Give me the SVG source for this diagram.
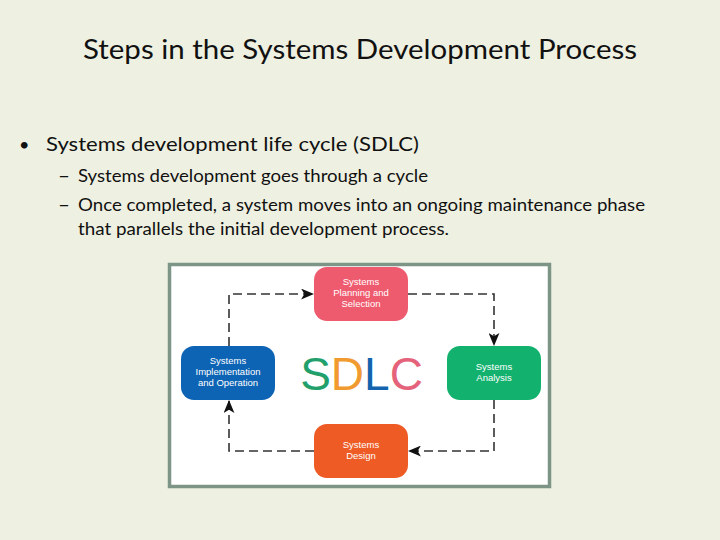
<svg xmlns="http://www.w3.org/2000/svg" width="720" height="540" viewBox="0 0 720 540">
<style>
.slide{font-family:Lato,"Open Sans","Liberation Sans",sans-serif;fill:#111;}
.nt{font-family:"Liberation Sans",Arial,sans-serif;font-size:9.5px;fill:#fff;text-anchor:middle;}
.conn{fill:none;stroke:#333;stroke-width:1.6;stroke-dasharray:9,5;}
</style>
<defs>
<marker id="ah" viewBox="0 0 12 10" refX="11" refY="5" markerWidth="13" markerHeight="11" markerUnits="userSpaceOnUse" orient="auto">
<path d="M0,0 L12,5 L0,10 L3,5 Z" fill="#111"/>
</marker>
</defs>
<rect width="720" height="540" fill="#EEF0E1"/>
<text class="slide" x="360" y="59" font-size="27" text-anchor="middle" textLength="554" lengthAdjust="spacingAndGlyphs">Steps in the Systems Development Process</text>
<text class="slide" x="19" y="151" font-size="18">•</text>
<text class="slide" x="46" y="151" font-size="19.5" textLength="373" lengthAdjust="spacingAndGlyphs">Systems development life cycle (SDLC)</text>
<text class="slide" x="58" y="182" font-size="17" textLength="12" lengthAdjust="spacingAndGlyphs">–</text>
<text class="slide" x="78" y="182" font-size="17" textLength="350" lengthAdjust="spacingAndGlyphs">Systems development goes through a cycle</text>
<text class="slide" x="58" y="211" font-size="17" textLength="12" lengthAdjust="spacingAndGlyphs">–</text>
<text class="slide" x="78" y="211" font-size="17" textLength="567" lengthAdjust="spacingAndGlyphs">Once completed, a system moves into an ongoing maintenance phase</text>
<text class="slide" x="78" y="235" font-size="17" textLength="371" lengthAdjust="spacingAndGlyphs">that parallels the initial development process.</text>
<g id="frame">
<rect x="169.5" y="264.5" width="380" height="222" fill="#fff" stroke="#7D9586" stroke-width="3.5"/>
</g>
<g id="connectors">
<path class="conn" d="M229,346 V294 H313" marker-end="url(#ah)"/>
<path class="conn" d="M408,294 H494 V345" marker-end="url(#ah)"/>
<path class="conn" d="M494,400 V451 H409" marker-end="url(#ah)"/>
<path class="conn" d="M314,451 H229 V401" marker-end="url(#ah)"/>
</g>
<g id="planning">
<rect x="314" y="267" width="94" height="54" rx="13" fill="#EF5B6E"/>
<text class="nt" x="361" y="285.4">Systems</text>
<text class="nt" x="361" y="296.3">Planning and</text>
<text class="nt" x="361" y="307.1">Selection</text>
</g>
<g id="analysis">
<rect x="447" y="346" width="94" height="54" rx="13" fill="#12B16D"/>
<text class="nt" x="494" y="370.1">Systems</text>
<text class="nt" x="494" y="380.9">Analysis</text>
</g>
<g id="design">
<rect x="314" y="424" width="94" height="54" rx="13" fill="#EE5B25"/>
<text class="nt" x="361" y="448.1">Systems</text>
<text class="nt" x="361" y="458.9">Design</text>
</g>
<g id="implementation">
<rect x="181" y="346" width="94" height="54" rx="13" fill="#0D63B4"/>
<text class="nt" x="228" y="364.4">Systems</text>
<text class="nt" x="228" y="375.3">Implementation</text>
<text class="nt" x="228" y="386.1">and Operation</text>
</g>
<g id="sdlc">
<text x="361.5" y="390" font-family="'Liberation Sans',Arial,sans-serif" font-size="46" text-anchor="middle"><tspan fill="#22A06B">S</tspan><tspan fill="#F09A2F">D</tspan><tspan fill="#1463AE">L</tspan><tspan fill="#E4627A">C</tspan></text>
</g>
</svg>
